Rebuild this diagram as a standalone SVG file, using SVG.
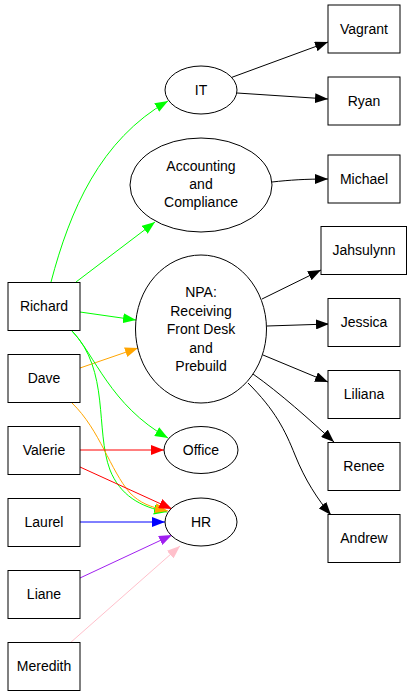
<svg xmlns="http://www.w3.org/2000/svg" width="413" height="696" viewBox="0 0 413 696">
<defs>
<style>
.n rect, .n ellipse { fill: #fff; stroke: #000; stroke-width: 1; }
.n text { font-family: "Liberation Sans", Arial, sans-serif; font-size: 14px; text-anchor: middle; fill: #000; }
.e path { fill: none; stroke-width: 1; }
</style>
<marker id="aK" markerUnits="userSpaceOnUse" markerWidth="13" markerHeight="10" refX="13" refY="5" orient="auto"><path d="M0,0 L13,5 L0,10 z" fill="#000"/></marker>
<marker id="aG" markerUnits="userSpaceOnUse" markerWidth="13" markerHeight="10" refX="13" refY="5" orient="auto"><path d="M0,0 L13,5 L0,10 z" fill="#00ff00"/></marker>
<marker id="aO" markerUnits="userSpaceOnUse" markerWidth="13" markerHeight="10" refX="13" refY="5" orient="auto"><path d="M0,0 L13,5 L0,10 z" fill="#ffa500"/></marker>
<marker id="aR" markerUnits="userSpaceOnUse" markerWidth="13" markerHeight="10" refX="13" refY="5" orient="auto"><path d="M0,0 L13,5 L0,10 z" fill="#ff0000"/></marker>
<marker id="aB" markerUnits="userSpaceOnUse" markerWidth="13" markerHeight="10" refX="13" refY="5" orient="auto"><path d="M0,0 L13,5 L0,10 z" fill="#0000ff"/></marker>
<marker id="aP" markerUnits="userSpaceOnUse" markerWidth="13" markerHeight="10" refX="13" refY="5" orient="auto"><path d="M0,0 L13,5 L0,10 z" fill="#a020f0"/></marker>
<marker id="aI" markerUnits="userSpaceOnUse" markerWidth="13" markerHeight="10" refX="13" refY="5" orient="auto"><path d="M0,0 L13,5 L0,10 z" fill="#ffc0cb"/></marker>
</defs>
<rect width="413" height="696" fill="#fff"/>
<g id="edges" class="e">
<path d="M51,282 C70,210 100,140 168,101" stroke="#00ff00" marker-end="url(#aG)"/>
<path d="M76,282 L155,222" stroke="#00ff00" marker-end="url(#aG)"/>
<path d="M80,312 L136,320" stroke="#00ff00" marker-end="url(#aG)"/>
<path d="M80,368 L138,348" stroke="#ffa500" marker-end="url(#aO)"/>
<path d="M72,331 C95,355 110,405 168,438" stroke="#00ff00" marker-end="url(#aG)"/>
<path d="M72,331 C110,370 95,430 110,470 C120,495 140,507 167,512" stroke="#00ff00" marker-end="url(#aG)"/>
<path d="M72,403 C100,430 110,470 130,493 C140,503 150,507 168,511" stroke="#ffa500" marker-end="url(#aO)"/>
<path d="M80,450 L164,450" stroke="#ff0000" marker-end="url(#aR)"/>
<path d="M80,467 L172,509" stroke="#ff0000" marker-end="url(#aR)"/>
<path d="M80,522 L165,522" stroke="#0000ff" marker-end="url(#aB)"/>
<path d="M80,578 L172,535" stroke="#a020f0" marker-end="url(#aP)"/>
<path d="M70,643 L180,546" stroke="#ffc0cb" marker-end="url(#aI)"/>
<path d="M230,78 L328,42" stroke="#000" marker-end="url(#aK)"/>
<path d="M237,93 L328,99" stroke="#000" marker-end="url(#aK)"/>
<path d="M272,182 C290,180 305,179 328,179" stroke="#000" marker-end="url(#aK)"/>
<path d="M262,299 L321,270" stroke="#000" marker-end="url(#aK)"/>
<path d="M267,326 L329,324" stroke="#000" marker-end="url(#aK)"/>
<path d="M263,355 L328,382" stroke="#000" marker-end="url(#aK)"/>
<path d="M253,374 C280,393 310,420 334,442" stroke="#000" marker-end="url(#aK)"/>
<path d="M248,383 C275,410 285,430 295,455 C305,480 318,500 331,515" stroke="#000" marker-end="url(#aK)"/>
</g>
<g id="Richard" class="n"><rect x="8" y="282.5" width="72" height="48"/><text x="44" y="311">Richard</text></g>
<g id="Dave" class="n"><rect x="8" y="354.5" width="72" height="48"/><text x="44" y="383">Dave</text></g>
<g id="Valerie" class="n"><rect x="8" y="426.5" width="72" height="48"/><text x="44" y="455">Valerie</text></g>
<g id="Laurel" class="n"><rect x="8" y="498.5" width="72" height="48"/><text x="44" y="527">Laurel</text></g>
<g id="Liane" class="n"><rect x="8" y="570.5" width="72" height="48"/><text x="44" y="599">Liane</text></g>
<g id="Meredith" class="n"><rect x="8" y="642.5" width="72" height="48"/><text x="44" y="671">Meredith</text></g>
<g id="IT" class="n"><ellipse cx="201" cy="90" rx="36" ry="24"/><text x="201" y="95">IT</text></g>
<g id="Accounting" class="n"><ellipse cx="201" cy="185" rx="71" ry="47"/><text x="201" y="171">Accounting</text><text x="201" y="189">and</text><text x="201" y="207">Compliance</text></g>
<g id="NPA" class="n"><ellipse cx="201" cy="329" rx="65.5" ry="74"/><text x="201" y="297">NPA:</text><text x="201" y="315.5">Receiving</text><text x="201" y="334">Front Desk</text><text x="201" y="352.5">and</text><text x="201" y="371">Prebuild</text></g>
<g id="Office" class="n"><ellipse cx="201" cy="450" rx="37" ry="23.5"/><text x="201" y="455">Office</text></g>
<g id="HR" class="n"><ellipse cx="201" cy="522" rx="36" ry="24"/><text x="201" y="527">HR</text></g>
<g id="Vagrant" class="n"><rect x="328" y="5" width="72" height="48"/><text x="364" y="33.5">Vagrant</text></g>
<g id="Ryan" class="n"><rect x="328" y="77" width="72" height="48"/><text x="364" y="105.5">Ryan</text></g>
<g id="Michael" class="n"><rect x="328" y="155" width="72" height="48"/><text x="364" y="183.5">Michael</text></g>
<g id="Jahsulynn" class="n"><rect x="321" y="226.5" width="85.5" height="48"/><text x="364" y="255">Jahsulynn</text></g>
<g id="Jessica" class="n"><rect x="328" y="298.5" width="72" height="48"/><text x="364" y="327">Jessica</text></g>
<g id="Liliana" class="n"><rect x="328" y="370.5" width="72" height="48"/><text x="364" y="399">Liliana</text></g>
<g id="Renee" class="n"><rect x="328" y="442.5" width="72" height="48"/><text x="364" y="471">Renee</text></g>
<g id="Andrew" class="n"><rect x="328" y="514.5" width="72" height="48"/><text x="364" y="543">Andrew</text></g>
</svg>
